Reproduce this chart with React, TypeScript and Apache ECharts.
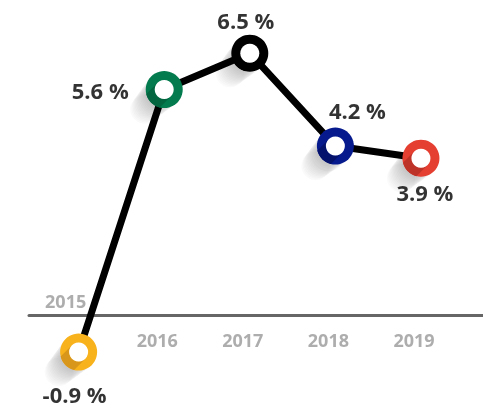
import React, { useEffect, useRef } from "react";
import * as echarts from "echarts";

// Data
const years = ["2015", "2016", "2017", "2018", "2019"];
const growth = [-0.9, 5.6, 6.5, 4.2, 3.9];

// Styles (kept separate from data)
const ringColors = ["#F8B21C", "#037B4E", "#000000", "#061A8E", "#E43F31"];
const ringShade = ["#D8961A", "#02653F", "#000000", "#04126C", "#BD3328"];
const valueLabelOffsets: number[][] = [
  [-4, 42],
  [-64, 0],
  [-4, -33],
  [22, -36],
  [4, 34],
];

const R = 18.5;
const R0 = 9.5;

function renderItem(params: any, api: any) {
  const i = params.dataIndex;
  const c = api.coord([api.value(0), api.value(1)]);
  const cx = c[0];
  const cy = c[1];
  const s = Math.SQRT1_2;
  const shadows: any[] = [];
  const steps = 14;
  for (let k = steps; k >= 1; k--) {
    const d = k * 2;
    shadows.push({
      type: "circle",
      shape: { cx: cx - d * s, cy: cy + d * s, r: R - k * 0.3 },
      style: { fill: "rgba(0,0,0,0.018)" },
    });
  }
  // hole's long shadow across the ring (lower-left strip)
  const pts: number[][] = [];
  const N = 24;
  for (let k = 0; k <= N; k++) {
    const a = Math.PI / 4 + (Math.PI * k) / N;
    pts.push([cx + R0 * Math.cos(a), cy + R0 * Math.sin(a)]);
  }
  const beta = Math.asin(R0 / R);
  for (let k = 0; k <= N; k++) {
    const a = (3 * Math.PI) / 4 + beta - (2 * beta * k) / N;
    pts.push([cx + R * Math.cos(a), cy + R * Math.sin(a)]);
  }
  return {
    type: "group",
    children: [
      ...shadows,
      { type: "circle", shape: { cx, cy, r: R }, style: { fill: ringColors[i] } },
      { type: "polygon", shape: { points: pts }, style: { fill: ringShade[i] } },
      { type: "circle", shape: { cx, cy, r: R0 }, style: { fill: "#ffffff" } },
    ],
  };
}

export default function App() {
  const ref = useRef<HTMLDivElement>(null);
  useEffect(() => {
    const chart = echarts.init(ref.current!, undefined, { renderer: "svg" });
    const pts = growth.map((v, i) => [i, v]);
    chart.setOption({
      animation: false,
      grid: { left: 29, right: 0, top: 33, height: 363.5 },
      xAxis: {
        type: "value",
        min: -0.58,
        max: 4.725,
        axisLine: { onZero: true, lineStyle: { color: "#666666", width: 3 } },
        axisTick: { show: false },
        axisLabel: { show: false },
        splitLine: { show: false },
      },
      yAxis: { type: "value", min: -2, max: 7, show: false },
      series: [
        {
          type: "line",
          data: pts,
          symbol: "none",
          lineStyle: { color: "#000000", width: 7 },
          z: 2,
        },
        { type: "custom", renderItem, data: pts, z: 3 },
        {
          type: "scatter",
          symbolSize: 1,
          itemStyle: { color: "transparent" },
          z: 4,
          data: growth.map((v, i) => ({
            value: [i, v],
            label: {
              show: true,
              position: "inside",
              offset: valueLabelOffsets[i],
              formatter: v.toFixed(1) + " %",
              color: "#000000",
              fontSize: 22,
              fontWeight: "bold",
              fontFamily: "'Open Sans', sans-serif",
            },
          })),
        },
        {
          type: "scatter",
          symbolSize: 1,
          itemStyle: { color: "transparent" },
          z: 4,
          data: years.map((y, i) => ({
            value: [i, 0],
            label: {
              show: true,
              position: "inside",
              offset: growth[i] < 0 ? [-13, -14.5] : [-7, 24.5],
              formatter: y,
              color: "#999999",
              fontSize: 18,
              fontWeight: "bold",
              fontFamily: "'Open Sans', sans-serif",
            },
          })),
        },
      ],
    });
    return () => chart.dispose();
  }, []);
  return (
    <div
      ref={ref}
      style={{ position: "fixed", left: 0, top: 0, width: 483, height: 408 }}
    />
  );
}
